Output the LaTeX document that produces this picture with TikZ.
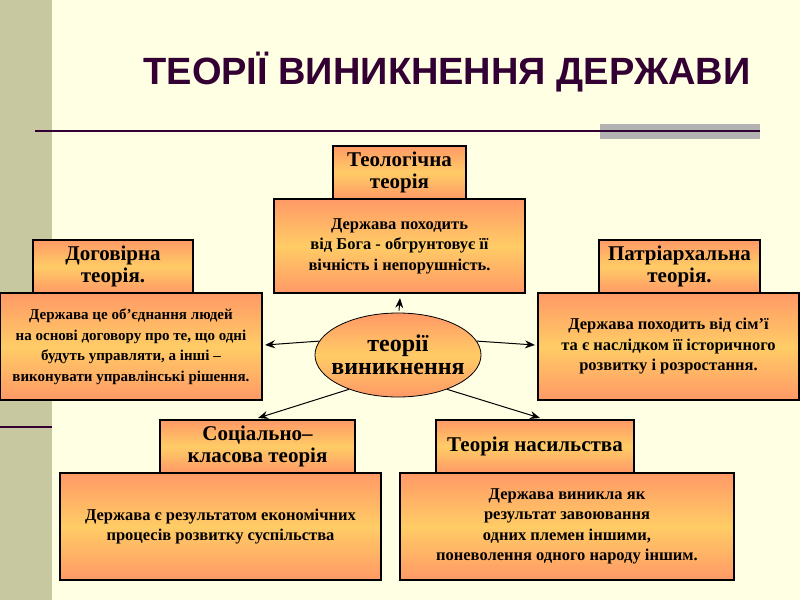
\documentclass[tikz,border=0pt]{standalone}
\usepackage{fontspec}
\setmainfont{Liberation Serif}
\setsansfont{Liberation Sans}
\usetikzlibrary{shapes.geometric,arrows.meta}
\definecolor{bg}{HTML}{FFFFE3}
\definecolor{stripe}{HTML}{C8C8A0}
\definecolor{dpur}{HTML}{330033}
\definecolor{orA}{HTML}{FF9966}
\definecolor{orB}{HTML}{FFCC66}
\tikzset{
 box/.style={draw=black,line width=1.2pt,top color=orA,bottom color=orA,middle color=orB,shading=axis,inner sep=0pt,align=center,font=\bfseries},
 ttl/.style={box,font=\bfseries\fontsize{21}{22}\selectfont},
 dsc/.style={box,font=\bfseries\fontsize{16.5}{20.5}\selectfont},
 arr/.style={-{Stealth[length=10pt,width=8pt]},line width=1pt}
}
\begin{document}
\begin{tikzpicture}[x=1pt,y=-1pt]
\useasboundingbox (0,0) rectangle (800,600);
\fill[bg] (0,0) rectangle (800,600);
\fill[stripe] (0,0) rectangle (52,600);
\draw[dpur,line width=2pt] (0,427) -- (52,427);
\node[text=dpur,font=\sffamily\bfseries\fontsize{38}{38}\selectfont] (title) at (447,72) {ТЕОРІЇ ВИНИКНЕННЯ ДЕРЖАВИ};
\fill[gray!60] (600,124) rectangle (760,139);
\draw[dpur,line width=1.2pt] (35,131) -- (760,131);
% theological
\node[ttl,minimum width=133pt,minimum height=53pt] (t1) at (399.5,172.5) {Теологічна\\теорія};
\node[dsc,minimum width=251pt,minimum height=94pt] (d1) at (399.5,246) {Держава походить\\від Бога - обгрунтовує її\\вічність і непорушність.};
% contract
\node[ttl,minimum width=160pt,minimum height=53pt] (t2) at (113,266.5) {Договірна\\теорія.};
\node[dsc,minimum width=262pt,minimum height=107pt,font=\bfseries\fontsize{15}{20.5}\selectfont] (d2) at (131,346.5) {Держава це об'єднання людей\\на основі договору про те, що одні\\будуть управляти, а інші –\\виконувати управлінські рішення.};
% patriarchal
\node[ttl,minimum width=161pt,minimum height=53pt] (t3) at (679.5,266.5) {Патріархальна\\теорія.};
\node[dsc,minimum width=261pt,minimum height=107pt] (d3) at (668.5,346.5) {Держава походить від сім'ї\\та є наслідком її історичного\\розвитку і розростання.};
% class
\node[ttl,minimum width=195pt,minimum height=53pt] (t4) at (257.5,446.5) {Соціально–\\класова теорія};
\node[dsc,minimum width=321pt,minimum height=107pt] (d4) at (220.5,526.5) {Держава є результатом економічних\\процесів розвитку суспільства};
% violence
\node[ttl,minimum width=198pt,minimum height=53pt] (t5) at (535,446.5) {Теорія насильства};
\node[dsc,minimum width=334pt,minimum height=107pt] (d5) at (567,526.5) {Держава виникла як\\результат завоювання\\одних племен іншими,\\поневолення одного народу іншим.};
% center
\node[ellipse,box,line width=0.8pt,inner sep=-8pt,minimum width=156pt,minimum height=84pt,font=\bfseries\fontsize{24}{23}\selectfont] (c) at (398,355) {теорії\\виникнення};
\coordinate (a1) at (400,298);
\coordinate (a2) at (265,345);
\coordinate (a3) at (535,345);
\coordinate (a4) at (258,418);
\coordinate (a5) at (540,418);
\draw[arr] (c.north) ++(1,-2) -- (a1);
\draw[arr] (c.170) -- (a2);
\draw[arr] (c.10) -- (a3);
\draw[arr] (c.215) -- (a4);
\draw[arr] (c.325) -- (a5);
\end{tikzpicture}
\end{document}
